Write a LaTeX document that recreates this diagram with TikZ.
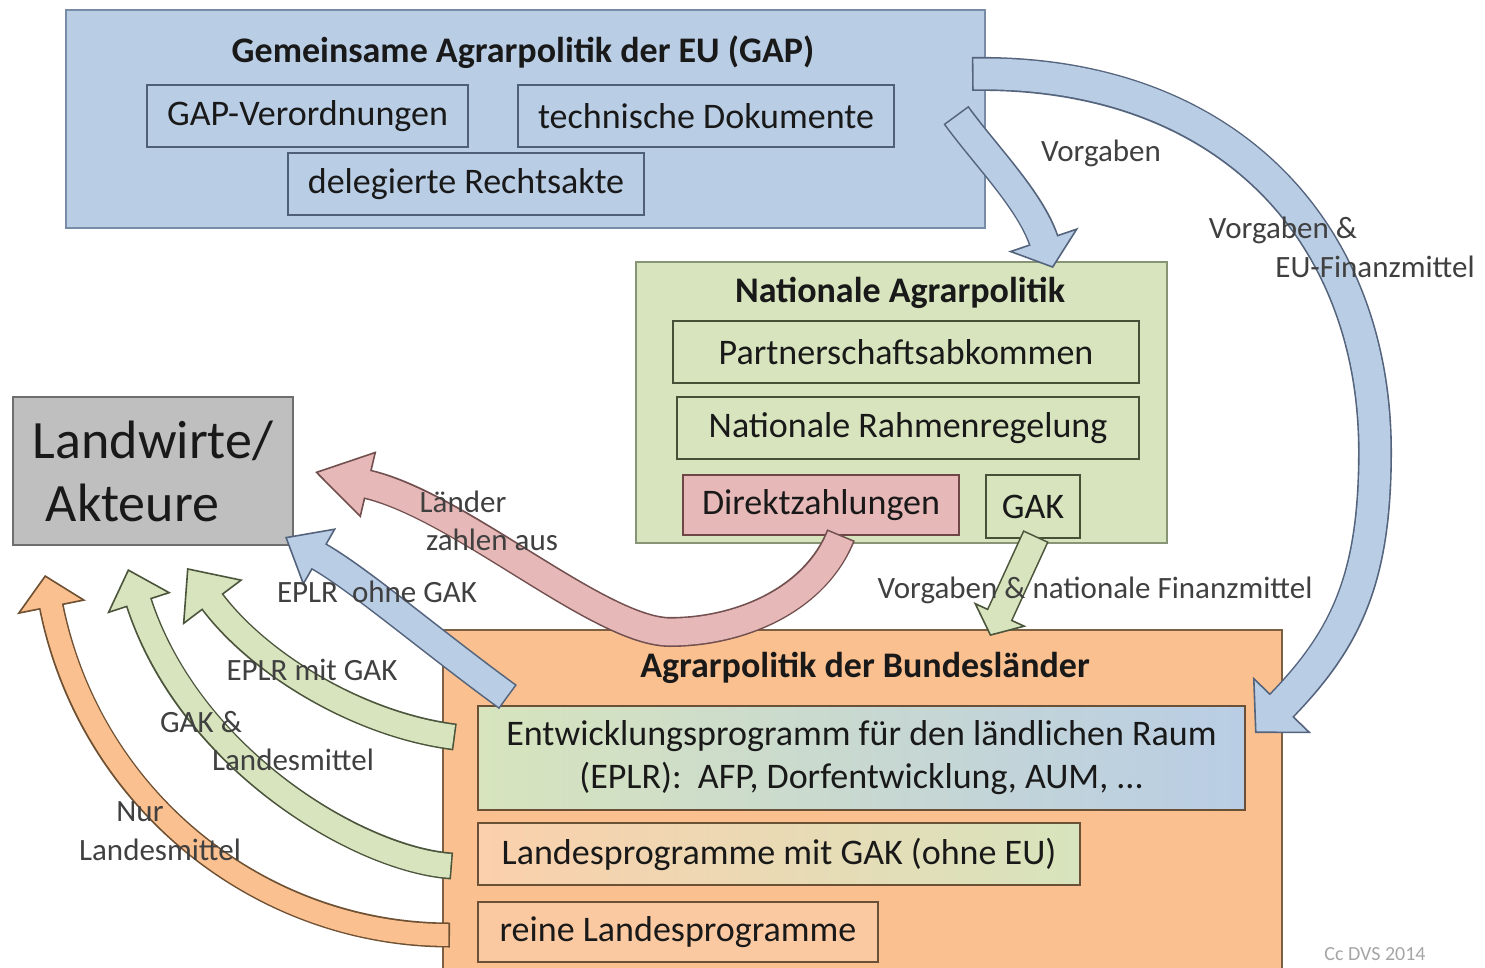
\documentclass[tikz,border=0pt]{standalone}
\usepackage{fontspec}
\setmainfont{Carlito}
\usetikzlibrary{arrows.meta}

\definecolor{gapblue}{RGB}{185,205,229}
\definecolor{gapline}{RGB}{120,140,168}
\definecolor{gapdark}{RGB}{80,95,120}
\definecolor{natgreen}{RGB}{215,228,189}
\definecolor{natline}{RGB}{135,148,118}
\definecolor{natdark}{RGB}{70,80,55}
\definecolor{dzpink}{RGB}{230,185,184}
\definecolor{dzdark}{RGB}{110,70,70}
\definecolor{blorange}{RGB}{250,192,144}
\definecolor{blline}{RGB}{125,95,65}
\definecolor{bldark}{RGB}{105,80,55}
\definecolor{lwgray}{RGB}{191,191,191}
\definecolor{lwline}{RGB}{110,110,110}
\definecolor{blueedge}{RGB}{85,100,125}
\definecolor{greenedge}{RGB}{75,85,60}
\definecolor{pinkedge}{RGB}{115,80,80}
\definecolor{orangeedge}{RGB}{110,80,50}

\tikzset{
  panel/.style={draw=#1, line width=1.8pt, inner sep=0pt},
  item/.style={draw=#1, line width=2pt, inner sep=0pt, text=black!90,
    font=\fontsize{36}{43}\selectfont},
  heading/.style={font=\bfseries\fontsize{36}{43}\selectfont, text=black!90},
  flowlabel/.style={font=\fontsize{31}{36}\selectfont, text=black!75},
  % fill, edge, shaft width, head width, head length
  blockarrow/.style n args={5}{line width=#3-3.2pt, draw=#1, line cap=butt,
    shorten <=1.6pt, shorten >=#5-2.5pt,
    preaction={draw=#2, line width=#3, shorten <=0pt, shorten >=0pt,
      -{Triangle[open, fill=#1, width=#4 0, length=#5 0, line width=1.6pt 0]}}}
}

\begin{document}
\begin{tikzpicture}[x=1pt, y=-1pt]
  \useasboundingbox (0,0) rectangle (1485,968);
  \clip (0,0) rectangle (1485,968);
  \fill[white] (0,0) rectangle (1485,968);

  % EU level
  \node[panel=gapline, fill=gapblue, minimum width=919pt, minimum height=218pt] (gap) at (525.5,119) {};
  \node[heading] (gaptitle) at (523,52) {Gemeinsame Agrarpolitik der EU (GAP)};
  \node[item=gapdark, fill=gapblue, minimum width=321pt, minimum height=62pt] (verord) at (307.5,116) {GAP-Verordnungen};
  \node[item=gapdark, fill=gapblue, minimum width=376pt, minimum height=62pt] (techdok) at (706,116) {technische Dokumente};
  \node[item=gapdark, fill=gapblue, minimum width=356pt, minimum height=62pt] (rechtsakte) at (466,184) {delegierte Rechtsakte};

  % national level
  \node[panel=natline, fill=natgreen, minimum width=531pt, minimum height=281pt] (nat) at (901.5,402.5) {};
  \node[heading] (nattitle) at (900,293) {Nationale Agrarpolitik};
  \node[item=natdark, fill=natgreen, minimum width=466pt, minimum height=62pt] (pakt) at (906,352) {Partnerschaftsabkommen};
  \node[item=natdark, fill=natgreen, minimum width=462pt, minimum height=62pt] (nrr) at (908,428) {Nationale Rahmenregelung};
  \node[item=dzdark, fill=dzpink, minimum width=276pt, minimum height=60pt] (dz) at (821,505) {Direktzahlungen};
  \node[item=natdark, fill=natgreen, minimum width=94pt, minimum height=63pt] (gak) at (1033,506.5) {GAK};

  % farmers
  \node[panel=lwline, fill=lwgray, minimum width=280pt, minimum height=148pt, align=left,
    text=black!90, font=\fontsize{54}{63}\selectfont] (lw) at (153,471) {Landwirte/\\\hspace*{13pt}Akteure};

  % federal states
  \node[panel=blline, fill=blorange, minimum width=839pt, minimum height=350pt] (bl) at (862.5,805) {};
  \node[heading] (bltitle) at (865,668) {Agrarpolitik der Bundesländer};
  \node[item=bldark, left color=natgreen, middle color=blorange!70!white, right color=gapblue,
    minimum width=767pt, minimum height=104pt, align=center] (eplr) at (861.5,758)
    {Entwicklungsprogramm für den ländlichen Raum\\(EPLR):\ \ AFP, Dorfentwicklung, AUM, ...};
  \node[item=bldark, left color=blorange!75!white, right color=natgreen, minimum width=602pt, minimum height=62pt] (lpgak) at (779,854) {Landesprogramme mit GAK (ohne EU)};
  \node[item=bldark, fill=blorange!85!white, minimum width=400pt, minimum height=60pt] (reinelp) at (678,932) {reine Landesprogramme};

  % arrow ends
  \coordinate (vorgtail) at (956,115);
  \coordinate (vorgtip) at (1053,268);
  \coordinate (eutail) at (972,74);
  \coordinate (eumid) at (1375,452);
  \coordinate (eutip) at (1255,733);
  \coordinate (gaktail) at (1036,536);
  \coordinate (gaktip) at (990,636);
  \coordinate (dztail) at (841,535);
  \coordinate (dzlow) at (670,632);
  \coordinate (dztip) at (315,472);
  \coordinate (ohnetail) at (508,697);
  \coordinate (ohnetip) at (285,537);
  \coordinate (mittail) at (455,737);
  \coordinate (mittip) at (187,568);
  \coordinate (lmtail) at (452,866);
  \coordinate (lmtip) at (128,569);
  \coordinate (nurtail) at (450,935);
  \coordinate (nurtip) at (45,575);

  % block arrows
  \draw[blockarrow={gapblue}{blueedge}{31pt}{74pt}{30pt}] (vorgtail) .. controls (985,155) and (1030,200) .. (vorgtip);
  \draw[blockarrow={gapblue}{blueedge}{34pt}{81pt}{39pt}] (eutail) .. controls (1225,70) and (1375,230) .. (eumid)
    .. controls (1375,580) and (1345,640) .. (eutip);
  \draw[blockarrow={natgreen}{greenedge}{28pt}{58pt}{24pt}] (gaktail) -- (gaktip);
  \draw[blockarrow={dzpink}{pinkedge}{30pt}{68pt}{55pt}] (dztail) .. controls (815,600) and (740,632) .. (dzlow)
    .. controls (600,632) and (460,506) .. (dztip);
  \draw[blockarrow={gapblue}{blueedge}{30pt}{66pt}{40pt}] (ohnetail) .. controls (430,640) and (360,580) .. (ohnetip);
  \draw[blockarrow={natgreen}{greenedge}{27pt}{75pt}{43pt}] (mittail) .. controls (360,725) and (260,665) .. (mittip);
  \draw[blockarrow={natgreen}{greenedge}{27pt}{67pt}{36pt}] (lmtail) .. controls (360,860) and (190,760) .. (lmtip);
  \draw[blockarrow={blorange}{orangeedge}{25pt}{70pt}{33pt}] (nurtail) .. controls (260,935) and (90,800) .. (nurtip);

  % labels
  \node[flowlabel] (lvorg) at (1101,153) {Vorgaben};
  \node[flowlabel] (leu1) at (1283,230) {Vorgaben \&};
  \node[flowlabel] (leu2) at (1375,267) {EU-Finanzmittel};
  \node[flowlabel] (lnat) at (1095,590) {Vorgaben \& nationale Finanzmittel};
  \node[flowlabel] (llaender1) at (463,502) {Länder};
  \node[flowlabel] (llaender2) at (492,540) {zahlen aus};
  \node[flowlabel] (lohne) at (377,592) {EPLR\ \ ohne GAK};
  \node[flowlabel] (lmit) at (312,670) {EPLR mit GAK};
  \node[flowlabel] (llm1) at (201,722) {GAK \&};
  \node[flowlabel] (llm2) at (293,760) {Landesmittel};
  \node[flowlabel] (lnur1) at (140,812) {Nur};
  \node[flowlabel] (lnur2) at (160,850) {Landesmittel};
  \node[font=\fontsize{20}{24}\selectfont, text=black!35] (credit) at (1375,954) {Cc DVS 2014};
\end{tikzpicture}
\end{document}
